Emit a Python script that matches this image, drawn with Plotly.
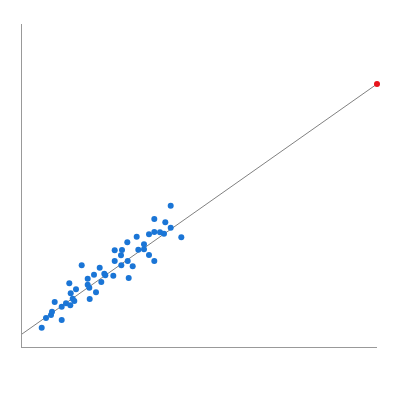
import plotly.graph_objects as go

# observed points (arbitrary units, no tick labels on the chart)
x_obs = [19.7, 24, 29, 30, 32.7, 39.7, 39.7, 44, 47.3, 48.3,
         48.7, 50.7, 52.3, 54, 59.7, 65.7, 65.7, 67.3, 67.7, 72,
         74, 77.7, 79.3, 82.3, 83.3, 91.3, 92.7, 92.7, 99, 100,
         99.3, 105.3, 105.7, 106.7, 110.7, 114.7, 116.3, 122, 122, 127,
         127, 132.3, 132.3, 132.3, 138, 142, 143.3, 148.7, 148.7, 159.3]
y_obs = [19.3, 29, 32, 35.3, 45, 27, 40.3, 43.7, 63.7, 41.7,
         53.7, 48.3, 46, 57.7, 81.7, 68.3, 62.3, 59.3, 48, 72.3,
         54.7, 79.3, 65, 73.3, 71.7, 71.3, 96.7, 86, 91.7, 97,
         81.7, 104.7, 86, 69, 80.7, 110.3, 97.3, 102.7, 97.7, 112.7,
         92, 128, 115, 86, 114.7, 113.3, 124.7, 141.3, 119.3, 109.7]

# fitted line end points and the predicted point
fit_x = [0, 355]
fit_y = [13, 263]
pred_x = [355]
pred_y = [263]

fig = go.Figure()

fig.add_trace(go.Scatter(
    x=fit_x, y=fit_y,
    mode="lines",
    line=dict(color="#808080", width=1),
    hoverinfo="skip"
))

fig.add_trace(go.Scatter(
    x=x_obs, y=y_obs,
    mode="markers",
    marker=dict(color="#1a75d6", size=6)
))

fig.add_trace(go.Scatter(
    x=pred_x, y=pred_y,
    mode="markers",
    marker=dict(color="#e8141c", size=6),
    cliponaxis=False
))

fig.update_xaxes(
    range=[0, 355],
    showgrid=False, zeroline=False, showticklabels=False, ticks="",
    showline=True, linecolor="#999999", linewidth=1
)
fig.update_yaxes(
    range=[0, 323],
    showgrid=False, zeroline=False, showticklabels=False, ticks="",
    showline=True, linecolor="#999999", linewidth=1
)

fig.update_layout(
    width=400, height=400,
    margin=dict(l=14, r=31, t=16, b=61),
    plot_bgcolor="white",
    paper_bgcolor="white",
    showlegend=False
)

fig.write_html("out.html")
